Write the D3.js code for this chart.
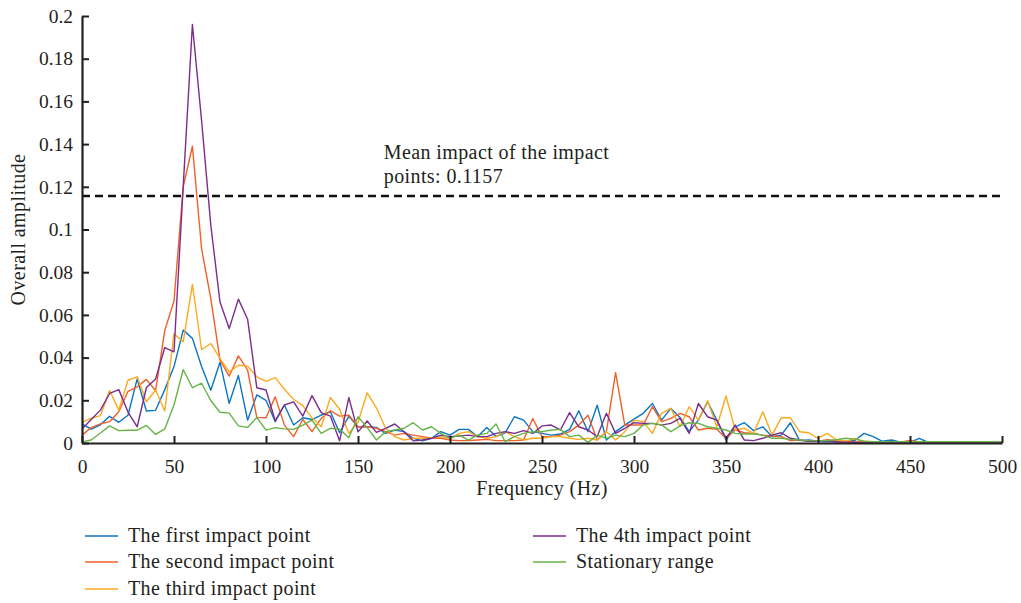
<!DOCTYPE html>
<html>
<head>
<meta charset="utf-8">
<script src="https://cdn.jsdelivr.net/npm/d3@7"></script>
<style>
  body { margin: 0; background: #fff; }
  text { font-family: "Liberation Serif", "DejaVu Serif", serif; fill: #231f20; }
  .lbl { font-size: 20px; letter-spacing: 0.4px; }
</style>
</head>
<body>
<div id="chart"></div>
<script>
// frequency axis: one sample every 5 Hz from 0 to 500
var freq = d3.range(0, 505, 5)

var firstPoint = [0.009,0.0065,0.0085,0.0125,0.0097,0.013,0.030,0.015,0.0153,0.025,
  0.0358,0.0529,0.049,0.0358,0.0247,0.0378,0.0186,0.0316,0.0107,0.0225,
  0.0200,0.010,0.0178,0.0084,0.0118,0.011,0.0131,0.0146,0.0048,0.0125,
  0.0076,0.0076,0.0073,0.0045,0.0061,0.0053,0.0022,0.001,0.0022,0.0053,
  0.0037,0.0064,0.0064,0.003,0.0073,0.003,0.0048,0.0123,0.0107,0.0053,
  0.0045,0.0037,0.0042,0.0064,0.0151,0.0053,0.0177,0.0014,0.0053,0.0084,
  0.0112,0.0139,0.0185,0.0107,0.0162,0.012,0.0053,0.0107,0.0193,0.0107,
  0.0014,0.0076,0.0095,0.0058,0.0076,0.003,0.0037,0.0095,0.0011,0.0014,
  0.0008,0.0006,0.0008,0.0006,0.0012,0.0045,0.003,0.0008,0.0014,0.0004,
  0.0003,0.0022,0.0003,0.0002,0.0002,0.0002,0.0002,0.0002,0.0002,0.0002,0.0002]

var secondPoint = [0.0037,0.0072,0.009,0.010,0.0146,0.0242,0.0263,0.0298,0.0245,0.0528,
  0.0665,0.120,0.139,0.091,0.0676,0.0388,0.0313,0.0408,0.0341,0.012,
  0.0118,0.0216,0.0084,0.003,0.011,0.0053,0.0115,0.0151,0.0126,0.013,
  0.0076,0.0076,0.0069,0.0053,0.0037,0.0045,0.0037,0.003,0.0022,0.0022,
  0.0014,0.0011,0.0011,0.0014,0.0017,0.0011,0.0011,0.0011,0.0014,0.0115,
  0.003,0.003,0.0037,0.0053,0.0084,0.013,0.0014,0.0053,0.0330,0.0084,
  0.0085,0.0084,0.017,0.010,0.0115,0.0139,0.0123,0.0061,0.0069,0.0064,
  0.0022,0.0061,0.0048,0.0045,0.0037,0.0033,0.003,0.0011,0.0014,0.0008,
  0.0008,0.0015,0.001,0.0008,0.0006,0.0005,0.0005,0.0004,0.0004,0.0004,
  0.0012,0.0005,0.0003,0.0002,0.0002,0.0002,0.0002,0.0002,0.0002,0.0002,0.0002]

var thirdPoint = [0.0098,0.0115,0.0128,0.0246,0.0154,0.0294,0.031,0.0193,0.0248,0.015,
  0.0512,0.0474,0.0743,0.0438,0.0466,0.0396,0.0333,0.0364,0.036,0.031,
  0.0289,0.0306,0.0252,0.0205,0.0175,0.0118,0.0076,0.0213,0.0158,0.0045,
  0.0097,0.0235,0.0165,0.0069,0.003,0.0014,0.0022,0.0022,0.0022,0.003,
  0.0022,0.0045,0.0053,0.003,0.0022,0.003,0.0053,0.003,0.0014,0.0022,
  0.0022,0.003,0.003,0.0022,0.0017,0.0022,0.0014,0.0053,0.0014,0.0053,
  0.0107,0.010,0.0045,0.0139,0.0162,0.0076,0.017,0.0107,0.0198,0.0076,
  0.022,0.0061,0.0069,0.0045,0.0146,0.0037,0.0118,0.0118,0.0053,0.0048,
  0.0022,0.0045,0.0015,0.0008,0.0022,0.0008,0.0005,0.0004,0.0003,0.0003,
  0.0003,0.0002,0.0002,0.0002,0.0002,0.0002,0.0002,0.0002,0.0002,0.0002,0.0002]

var fourthPoint = [0.0065,0.011,0.0154,0.0232,0.025,0.0145,0.0076,0.026,0.030,0.0447,
  0.0427,0.120,0.196,0.151,0.102,0.066,0.0536,0.0674,0.058,0.0259,
  0.0248,0.0104,0.0178,0.0193,0.0126,0.0222,0.0142,0.0126,0.001,0.0213,
  0.0052,0.0103,0.005,0.0069,0.0089,0.0053,0.001,0.0014,0.0022,0.0037,
  0.003,0.0032,0.0037,0.003,0.003,0.0045,0.0053,0.0045,0.0058,0.0045,
  0.008,0.0084,0.0061,0.0142,0.0076,0.0061,0.003,0.0139,0.0045,0.0069,
  0.0095,0.0092,0.0092,0.0084,0.0092,0.0115,0.0045,0.0185,0.0123,0.0107,
  0.0022,0.0084,0.0014,0.0011,0.0022,0.0037,0.0048,0.0022,0.0014,0.0008,
  0.0008,0.001,0.0005,0.0004,0.0003,0.0003,0.0002,0.0002,0.0002,0.0002,
  0.0002,0.0002,0.0002,0.0002,0.0002,0.0002,0.0002,0.0002,0.0002,0.0002,0.0002]

var stationary = [0.0005,0.0014,0.0047,0.008,0.0058,0.006,0.006,0.0082,0.004,0.0066,
  0.0178,0.0344,0.0259,0.028,0.0199,0.0144,0.014,0.008,0.0073,0.012,
  0.006,0.0072,0.0066,0.0064,0.0084,0.0107,0.0045,0.0069,0.0065,0.0025,
  0.0123,0.0072,0.0014,0.0053,0.0061,0.0069,0.0095,0.0061,0.0076,0.0045,
  0.0022,0.0037,0.0014,0.0037,0.0045,0.0089,0.0006,0.003,0.0045,0.0053,
  0.0053,0.0061,0.0064,0.003,0.0037,0.0002,0.0037,0.0022,0.0037,0.003,
  0.0045,0.0084,0.0092,0.0085,0.0053,0.008,0.0095,0.0092,0.0076,0.0069,
  0.0061,0.0045,0.0042,0.0042,0.0037,0.0022,0.0022,0.0017,0.0014,0.0011,
  0.001,0.0012,0.0015,0.0022,0.0018,0.0008,0.0006,0.0006,0.0006,0.0006,
  0.0006,0.0006,0.0006,0.0006,0.0006,0.0006,0.0006,0.0006,0.0006,0.0006,0.0006]

var seriesNames = ["The first impact point", "The second impact point", "The third impact point",
  "The 4th impact point", "Stationary range"]
var seriesColors = ["#0b75c4", "#f0602a", "#fbaa1f", "#7b2d8e", "#66b446"]
var seriesValues = [firstPoint, secondPoint, thirdPoint, fourthPoint, stationary]

var meanImpact = 0.1157
var xTicks = d3.range(0, 550, 50)
var yTicks = d3.range(0, 0.2001, 0.02)

var margin = {top: 16, right: 19, bottom: 160, left: 82}
var W = 1021, H = 603
var width = W - margin.left - margin.right
var height = H - margin.top - margin.bottom

var svg = d3.select("#chart").append("svg")
    .attr("width", W).attr("height", H)
var g = svg.append("g")
    .attr("transform", "translate(" + margin.left + "," + margin.top + ")")

var x = d3.scaleLinear().domain([0, 500]).range([0, 920])
var y = d3.scaleLinear().domain([0, 0.2]).range([height, 0])

// lines
var line = d3.line()
    .x(function(d, i) { return x(freq[i]) })
    .y(function(d) { return y(d) })

seriesValues.forEach(function(vals, k) {
  g.append("path")
    .datum(vals)
    .attr("fill", "none")
    .attr("stroke", seriesColors[k])
    .attr("stroke-width", 1.4)
    .attr("stroke-linejoin", "round")
    .attr("d", line)
})

// mean line
g.append("line")
    .attr("x1", 0).attr("x2", x(500) + 3)
    .attr("y1", y(meanImpact)).attr("y2", y(meanImpact))
    .attr("stroke", "#111")
    .attr("stroke-width", 2.4)
    .attr("stroke-dasharray", "8,5")

g.append("text").attr("class", "lbl")
    .attr("x", x(164)).attr("y", y(meanImpact) - 37)
    .text("Mean impact of the impact")
g.append("text").attr("class", "lbl")
    .attr("x", x(164)).attr("y", y(meanImpact) - 13)
    .text("points: 0.1157")

// axes, ticks pointing inwards
var xAxis = g.append("g")
    .attr("transform", "translate(0," + height + ")")
    .call(d3.axisBottom(x).tickValues(xTicks).tickSizeInner(-7).tickSizeOuter(0).tickPadding(16))
var yAxis = g.append("g")
    .call(d3.axisLeft(y).tickValues(yTicks).tickSizeInner(-7).tickSizeOuter(0).tickPadding(9)
      .tickFormat(function(d) { return String(+d.toFixed(2)) }))

g.selectAll(".domain").attr("stroke", "#231f20").attr("stroke-width", 2.2)
g.selectAll(".tick line").attr("stroke", "#231f20").attr("stroke-width", 2)
g.selectAll(".tick text").style("font-size", "19.5px").attr("fill", "#231f20")
  .style("font-family", "'Liberation Serif', serif")

// axis titles
g.append("text").attr("class", "lbl")
    .attr("text-anchor", "middle")
    .attr("x", x(250)).attr("y", height + 52)
    .text("Frequency (Hz)")
g.append("text").attr("class", "lbl")
    .attr("text-anchor", "middle")
    .attr("transform", "rotate(-90)")
    .attr("x", -y(0.1)).attr("y", -57)
    .text("Overall amplitude")

// legend
var legPos = [[85, 536], [85, 562], [85, 589], [533, 536], [533, 562]]
seriesNames.forEach(function(name, k) {
  svg.append("line")
    .attr("x1", legPos[k][0]).attr("x2", legPos[k][0] + 33)
    .attr("y1", legPos[k][1]).attr("y2", legPos[k][1])
    .attr("stroke", seriesColors[k])
    .attr("stroke-width", 1.4)
  svg.append("text").attr("class", "lbl")
    .attr("x", legPos[k][0] + 43).attr("y", legPos[k][1] + 6)
    .text(name)
})
</script>
</body>
</html>
